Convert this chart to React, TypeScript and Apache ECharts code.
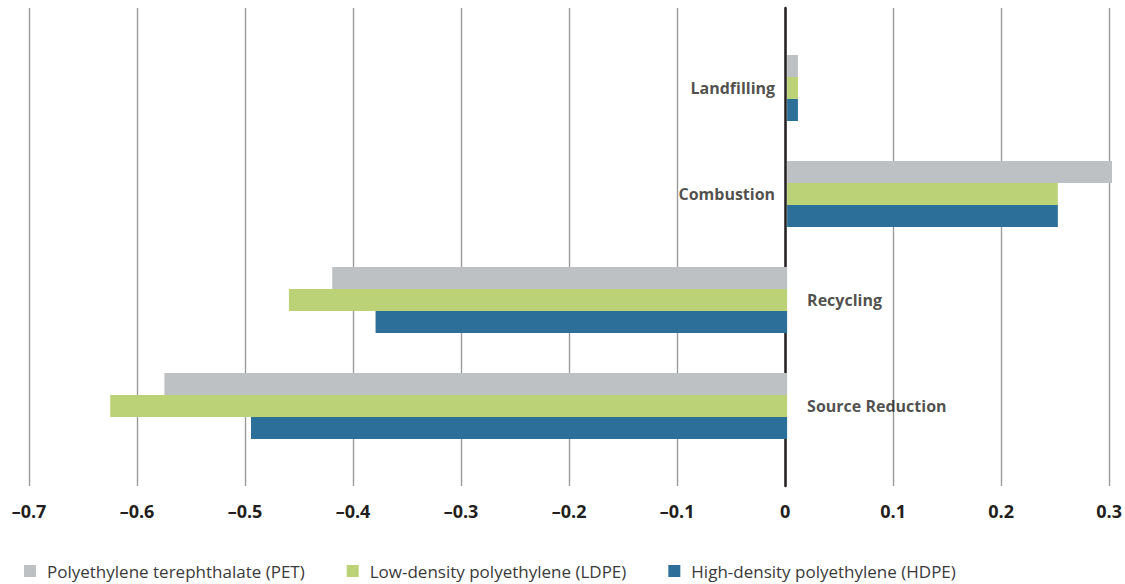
import React, { useEffect, useRef } from "react";
import * as echarts from "echarts";

const categories = ["Landfilling", "Combustion", "Recycling", "Source Reduction"];
const petValues = [0.01, 0.31, -0.42, -0.575];
const ldpeValues = [0.01, 0.25, -0.46, -0.625];
const hdpeValues = [0.01, 0.25, -0.38, -0.495];
const seriesNames = [
  "Polyethylene terephthalate (PET)",
  "Low-density polyethylene (LDPE)",
  "High-density polyethylene (HDPE)",
];
const colors = ["#BEC1C3", "#BBD277", "#2C6F99"];
const xMin = -0.7;
const xMax = 0.3;
const xInterval = 0.1;

export default function App() {
  const ref = useRef<HTMLDivElement>(null);
  useEffect(() => {
    if (!ref.current) return;
    const chart = echarts.init(ref.current, null, { renderer: "svg" });
    const allValues = [petValues, ldpeValues, hdpeValues];
    const labelData = categories.map((c, i) => {
      const positive = petValues[i] + ldpeValues[i] + hdpeValues[i] > 0;
      return {
        value: [0, c],
        label: {
          show: true,
          position: positive ? "left" : "right",
          distance: positive ? 12 : 20,
          formatter: c,
        },
      };
    });
    const option: any = {
      animation: false,
      grid: [
        { left: 29, right: 13, top: 35, height: 424 },
        { left: 29, right: 13, top: 8, height: 478 },
      ],
      legend: {
        left: 24,
        top: 562,
        padding: 0,
        itemWidth: 12,
        itemHeight: 12,
        itemGap: 42,
        icon: "rect",
        data: seriesNames,
        textStyle: {
          fontFamily: "Open Sans",
          fontSize: 17,
          lineHeight: 18,
          color: "#3a3a3a",
          padding: [0, 0, 0, 6],
        },
      },
      xAxis: [
        {
          gridIndex: 0,
          type: "value",
          min: xMin,
          max: xMax,
          interval: xInterval,
          show: false,
          splitLine: { show: false },
        },
        {
          gridIndex: 1,
          type: "value",
          min: xMin,
          max: xMax,
          interval: xInterval,
          axisLine: { show: false },
          axisTick: { show: false },
          splitLine: { show: true, lineStyle: { color: "#9b9b9b", width: 1.4 } },
          axisLabel: {
            margin: 16,
            fontFamily: "Open Sans",
            fontWeight: "bold",
            fontSize: 18,
            color: "#231f20",
            formatter: (v: number) => {
              const r = Math.round(v * 10) / 10;
              if (r === 0) return "0";
              return r < 0 ? "\u2013" + String(Math.abs(r)) : String(r);
            },
          },
        },
      ],
      yAxis: [
        {
          gridIndex: 0,
          type: "category",
          data: categories,
          inverse: true,
          axisLine: { show: false },
          axisTick: { show: false },
          axisLabel: { show: false },
          splitLine: { show: false },
        },
        {
          gridIndex: 1,
          type: "value",
          min: 0,
          max: 1,
          axisLine: { show: true, onZero: true, lineStyle: { color: "#231f20", width: 2.5 } },
          axisTick: { show: false },
          axisLabel: { show: false },
          splitLine: { show: false },
        },
      ],
      series: [
        ...allValues.map((vals, si) => ({
          name: seriesNames[si],
          type: "bar",
          xAxisIndex: 0,
          yAxisIndex: 0,
          data: vals,
          barWidth: 22,
          barGap: "0%",
          itemStyle: { color: colors[si] },
          z: 3,
        })),
        {
          type: "scatter",
          xAxisIndex: 0,
          yAxisIndex: 0,
          symbolSize: 0,
          silent: true,
          data: labelData,
          label: {
            show: true,
            fontFamily: "Open Sans",
            fontWeight: "bold",
            fontSize: 16,
            color: "#231f20",
          },
          z: 5,
        },
      ],
    };
    chart.setOption(option);
    return () => chart.dispose();
  }, []);
  return (
    <div
      ref={ref}
      style={{ position: "fixed", left: 0, top: 0, width: 1125, height: 584, background: "#fff" }}
    />
  );
}
